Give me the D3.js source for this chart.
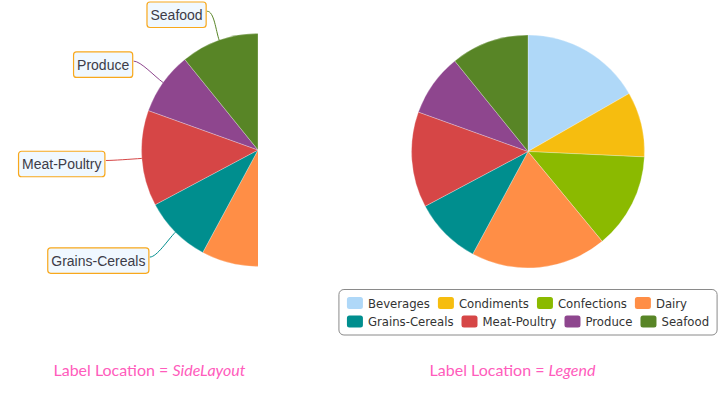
<!DOCTYPE html>
<html>
<head>
<meta charset="utf-8">
<script src="https://cdn.jsdelivr.net/npm/d3@7"></script>
<style>
  body { margin: 0; background: #fff; }
  svg { display: block; }
</style>
</head>
<body>
<div id="chart"></div>
<script>
// sales by category (thousands)
var categories = ['Beverages', 'Condiments', 'Confections', 'Dairy', 'Grains-Cereals', 'Meat-Poultry', 'Produce', 'Seafood']
var sales = [102, 55, 81, 115, 57, 81, 53, 66]
var colors = ['#afd8f8', '#f6bd0f', '#8bba00', '#ff8e46', '#008e8e', '#d64646', '#8e468e', '#588526']
var titles = [['Label Location = ', 'SideLayout'], ['Label Location = ', 'Legend']]

var W = 718, H = 406
var R = 116.5

var svg = d3.select('#chart').append('svg')
    .attr('width', W)
    .attr('height', H)

var data = categories.map(function(c, i) { return {name: c, value: sales[i], color: colors[i]} })

var pie = d3.pie()
    .value(function(d) { return d.value })
    .sort(null)
var arcs = pie(data)

var arc = d3.arc().innerRadius(0).outerRadius(R)

function drawPie(g) {
    g.selectAll('path.slice')
        .data(arcs)
        .enter().append('path')
        .attr('class', 'slice')
        .attr('d', arc)
        .attr('fill', function(d) { return d.data.color })
        .attr('stroke', 'rgba(255,255,255,0.45)')
        .attr('stroke-width', 0.6)
}

// ---- left: side layout, pie clipped to its left half ----
var cxL = 258, cyL = 150
svg.append('defs').append('clipPath')
    .attr('id', 'halfclip')
    .append('rect')
    .attr('x', 0)
    .attr('y', 0)
    .attr('width', cxL)
    .attr('height', H)

var left = svg.append('g').attr('clip-path', 'url(#halfclip)')
    .append('g').attr('transform', 'translate(' + cxL + ',' + cyL + ')')
drawPie(left)

var labelsG = svg.append('g').attr('transform', 'translate(' + cxL + ',' + cyL + ')')
var sideArcs = arcs.filter(function(d) {
    var m = (d.startAngle + d.endAngle) / 2
    return m > Math.PI * 1.1
})

sideArcs.forEach(function(d) {
    var m = (d.startAngle + d.endAngle) / 2
    var ex = R * Math.sin(m), ey = -R * Math.cos(m)
    var ax = (R + 36) * Math.sin(m), ay = -(R + 36) * Math.cos(m)

    var lg = labelsG.append('g')
    var txt = lg.append('text')
        .attr('font-family', 'Liberation Sans, Arial, sans-serif')
        .attr('font-size', 14)
        .attr('fill', '#3c3c48')
        .attr('text-anchor', 'end')
        .text(d.data.name)
    var tw = txt.node().getComputedTextLength()
    var bw = tw + 7, bh = 25.5
    var bx = ax - 1 - bw
    var by = ay + 3 - bh / 2
    if (by + cyL < 2) by = 2 - cyL
    var sy = by + bh / 2 - 3.5
    lg.insert('rect', 'text')
        .attr('x', bx)
        .attr('y', by)
        .attr('width', bw)
        .attr('height', bh)
        .attr('rx', 3)
        .attr('fill', '#f0f8ff')
        .attr('stroke', '#f8a81c')
        .attr('stroke-width', 1.2)
    txt.attr('x', bx + bw - 3.5).attr('y', by + bh / 2 + 5)

    var sx = bx + bw + 1
    var p = d3.path()
    p.moveTo(sx, sy)
    p.bezierCurveTo(sx + 7, sy, (R + 10) * Math.sin(m), -(R + 10) * Math.cos(m), ex, ey)
    lg.append('path')
        .attr('d', p.toString())
        .attr('fill', 'none')
        .attr('stroke', d.data.color)
        .attr('stroke-width', 1)
})

// ---- right: full pie with legend ----
var cxR = 528, cyR = 151.5
var right = svg.append('g').attr('transform', 'translate(' + cxR + ',' + cyR + ')')
drawPie(right)

var legend = svg.append('g')
var pad = 8, maxW = 380, rowH = 18.5
var items = []
var x = 0, row = 0
data.forEach(function(d) {
    var it = legend.append('g')
    it.append('rect')
        .attr('width', 16)
        .attr('height', 12)
        .attr('rx', 2.5)
        .attr('fill', d.color)
    var t = it.append('text')
        .attr('x', 21)
        .attr('y', 10.5)
        .attr('font-family', 'DejaVu Sans, Verdana, sans-serif')
        .attr('font-size', 11.7)
        .attr('fill', '#333')
        .text(d.name)
    var w = 21 + t.node().getComputedTextLength()
    if (x > 0 && x + w > maxW) { x = 0; row++ }
    items.push({g: it, x: x, row: row})
    x += w + 8
})
var rowWidths = []
items.forEach(function(it) {
    var w = it.x + it.g.node().getBBox().width
    rowWidths[it.row] = Math.max(rowWidths[it.row] || 0, w)
})
var boxW = d3.max(rowWidths) + pad * 2
var boxH = (row + 1) * rowH + 8.5
var lx = cxR - boxW / 2, ly = 289.5
legend.insert('rect', 'g')
    .attr('x', lx)
    .attr('y', ly)
    .attr('width', boxW)
    .attr('height', boxH)
    .attr('rx', 5)
    .attr('fill', '#fff')
    .attr('stroke', '#8a8a8a')
    .attr('stroke-width', 1)
items.forEach(function(it) {
    it.g.attr('transform', 'translate(' + (lx + pad + it.x) + ',' + (ly + 7.5 + it.row * rowH) + ')')
})

// ---- captions ----
var capX = [149.5, 512.5]
titles.forEach(function(t, i) {
    var tx = svg.append('text')
        .attr('x', capX[i])
        .attr('y', 376)
        .attr('text-anchor', 'middle')
        .attr('font-family', 'Lato, Open Sans, sans-serif')
        .attr('font-size', 16)
        .attr('fill', '#ff5cbc')
    tx.append('tspan').text(t[0])
    tx.append('tspan').attr('font-style', 'italic').text(t[1])
})
</script>
</body>
</html>
